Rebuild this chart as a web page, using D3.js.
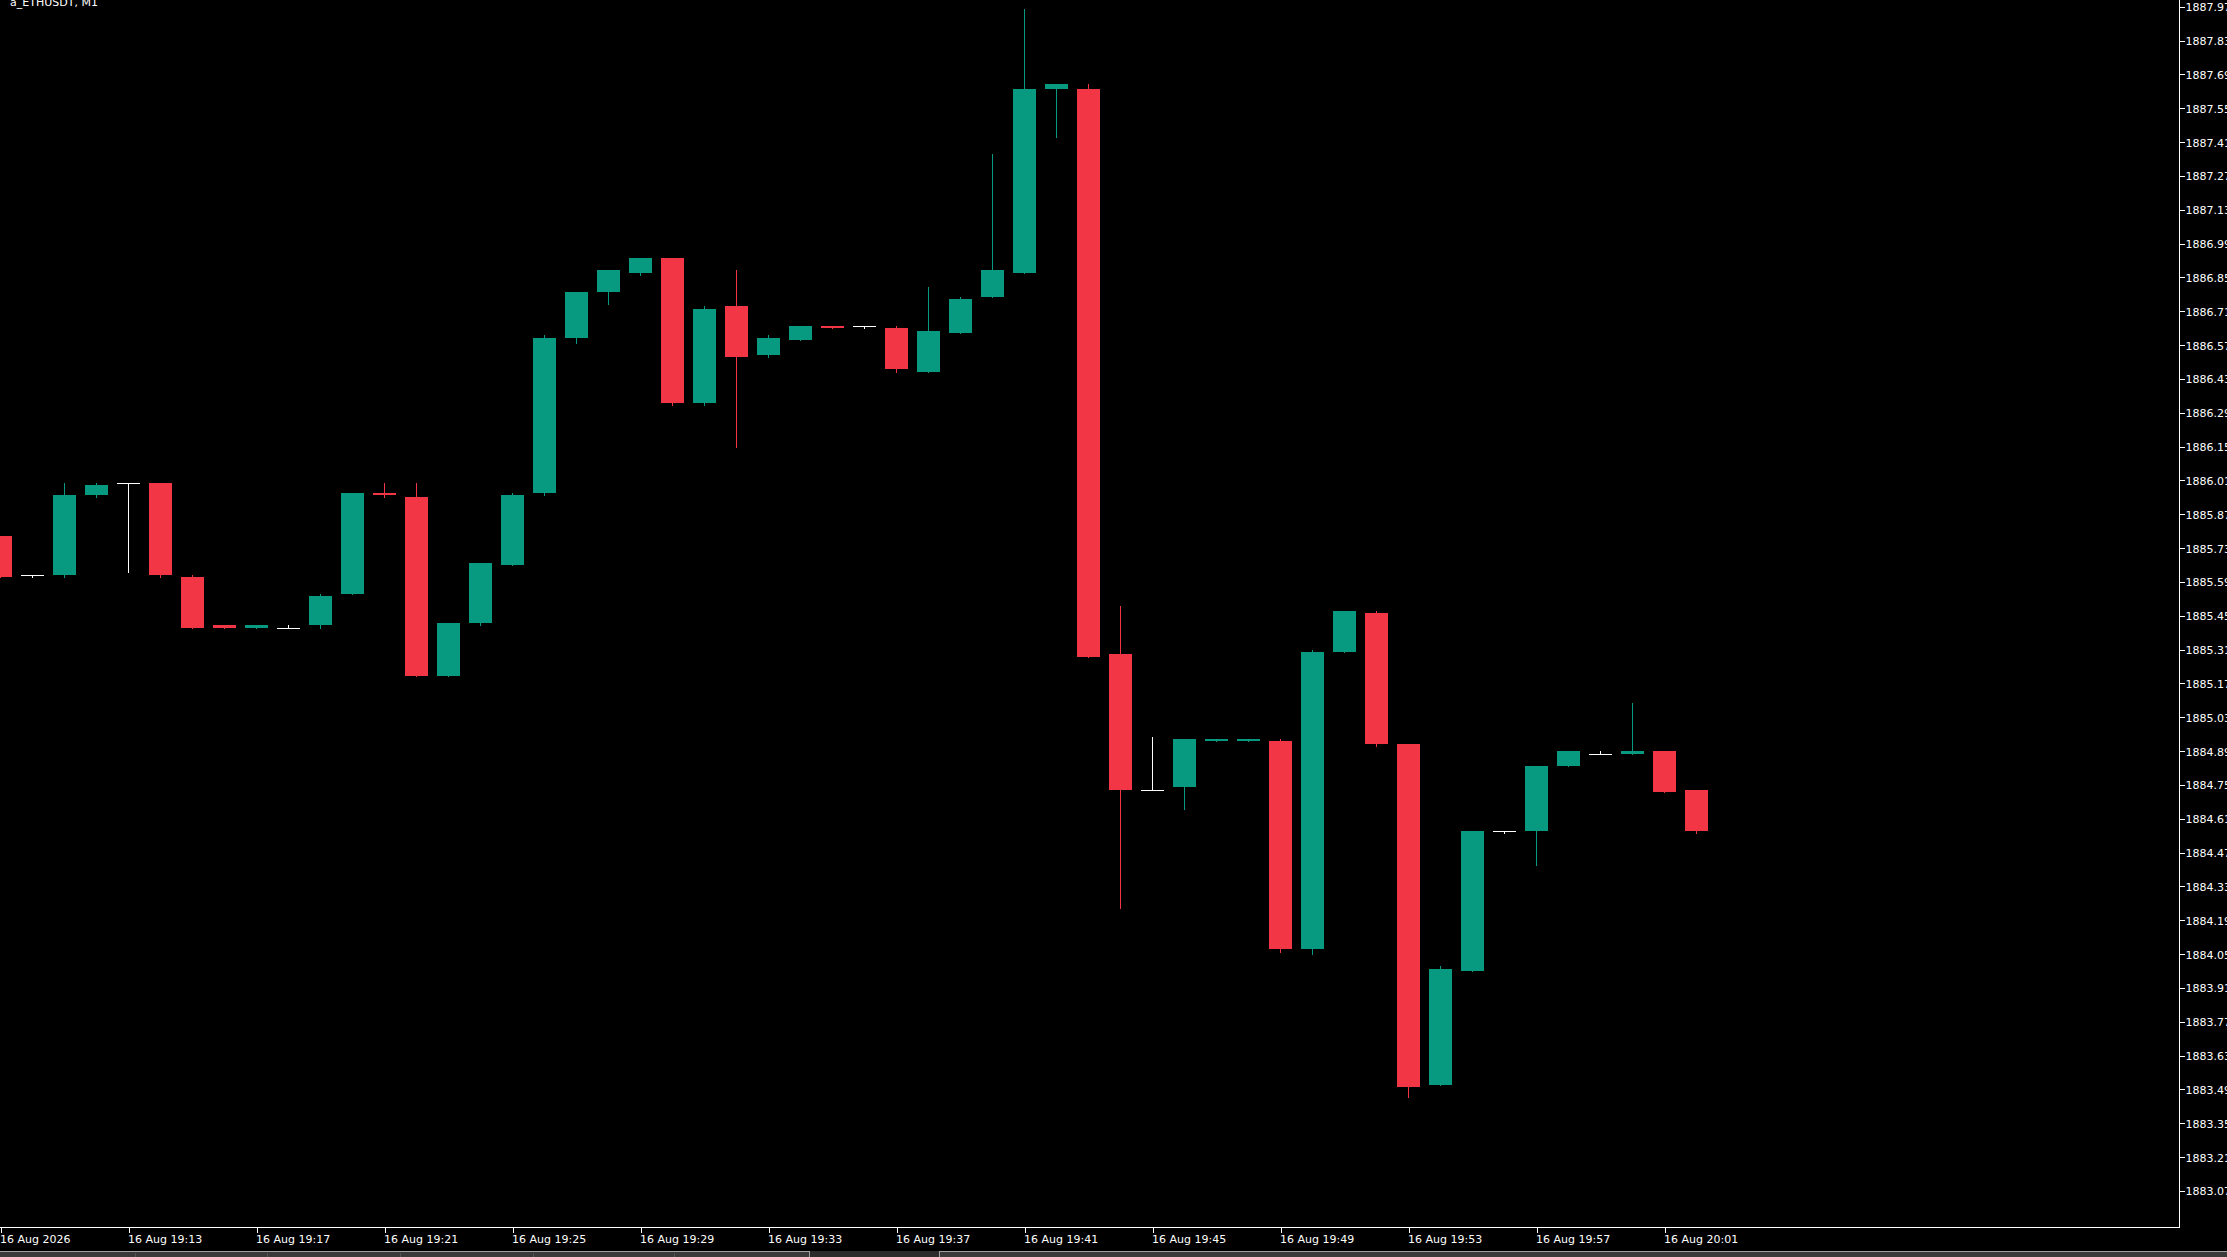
<!DOCTYPE html>
<html>
<head>
<meta charset="utf-8">
<script src="https://cdn.jsdelivr.net/npm/d3@7"></script>
<style>
  html, body { margin: 0; padding: 0; background: #000; overflow: hidden; }
  svg { display: block; }
  text { font-family: "DejaVu Sans", Verdana, sans-serif; }
</style>
</head>
<body>
<div id="chart"></div>
<script>
// ---------------- data ----------------
const chartTitle = "a_ETHUSDT, M1";
const times = ["19:09","19:10","19:11","19:12","19:13","19:14","19:15","19:16","19:17","19:18",
  "19:19","19:20","19:21","19:22","19:23","19:24","19:25","19:26","19:27","19:28",
  "19:29","19:30","19:31","19:32","19:33","19:34","19:35","19:36","19:37","19:38",
  "19:39","19:40","19:41","19:42","19:43","19:44","19:45","19:46","19:47","19:48",
  "19:49","19:50","19:51","19:52","19:53","19:54","19:55","19:56","19:57","19:58",
  "19:59","20:00","20:01","20:02"];
const open = [1885.78,1885.62,1885.62,1885.95,1886.00,1886.00,1885.61,1885.41,1885.40,1885.40,
  1885.41,1885.54,1885.96,1885.94,1885.20,1885.42,1885.66,1885.96,1886.60,1886.79,
  1886.87,1886.93,1886.33,1886.73,1886.53,1886.59,1886.65,1886.65,1886.64,1886.46,
  1886.62,1886.77,1886.87,1887.63,1887.63,1885.29,1884.73,1884.74,1884.93,1884.93,
  1884.93,1884.07,1885.30,1885.46,1884.92,1883.51,1883.98,1884.56,1884.56,1884.83,
  1884.88,1884.88,1884.89,1884.73];
const high = [1885.78,1885.62,1886.00,1886.00,1886.00,1886.00,1885.62,1885.41,1885.41,1885.41,
  1885.54,1885.96,1886.00,1886.00,1885.42,1885.67,1885.96,1886.61,1886.79,1886.88,
  1886.93,1886.93,1886.73,1886.88,1886.61,1886.65,1886.65,1886.65,1886.65,1886.81,
  1886.77,1887.36,1887.96,1887.65,1887.65,1885.49,1884.95,1884.94,1884.94,1884.94,
  1884.94,1885.31,1885.47,1885.47,1884.92,1884.00,1884.56,1884.56,1884.83,1884.89,
  1884.89,1885.09,1884.89,1884.73];
const low = [1885.61,1885.61,1885.61,1885.94,1885.63,1885.61,1885.40,1885.40,1885.40,1885.40,
  1885.40,1885.54,1885.94,1885.20,1885.20,1885.41,1885.66,1885.95,1886.58,1886.74,
  1886.86,1886.32,1886.32,1886.15,1886.52,1886.59,1886.64,1886.64,1886.46,1886.46,
  1886.62,1886.77,1886.87,1887.43,1885.28,1884.24,1884.73,1884.65,1884.93,1884.93,
  1884.06,1884.05,1885.30,1884.91,1883.46,1883.51,1883.98,1884.55,1884.42,1884.83,
  1884.88,1884.88,1884.72,1884.55];
const close = [1885.61,1885.62,1885.95,1885.99,1886.00,1885.62,1885.40,1885.40,1885.41,1885.40,
  1885.53,1885.96,1885.95,1885.20,1885.42,1885.67,1885.95,1886.60,1886.79,1886.88,
  1886.93,1886.33,1886.72,1886.52,1886.60,1886.65,1886.64,1886.65,1886.47,1886.63,
  1886.76,1886.88,1887.63,1887.65,1885.28,1884.73,1884.73,1884.94,1884.94,1884.94,
  1884.07,1885.30,1885.47,1884.92,1883.50,1883.99,1884.56,1884.56,1884.83,1884.89,
  1884.88,1884.89,1884.72,1884.56];
const priceTicks = [1887.97,1887.83,1887.69,1887.55,1887.41,1887.27,1887.13,1886.99,1886.85,1886.71,
  1886.57,1886.43,1886.29,1886.15,1886.01,1885.87,1885.73,1885.59,1885.45,1885.31,
  1885.17,1885.03,1884.89,1884.75,1884.61,1884.47,1884.33,1884.19,1884.05,1883.91,
  1883.77,1883.63,1883.49,1883.35,1883.21,1883.07];
const timeTickIndex = [0,4,8,12,16,20,24,28,32,36,40,44,48,52];
const timeTickLabels = ["16 Aug 2026","16 Aug 19:13","16 Aug 19:17","16 Aug 19:21","16 Aug 19:25",
  "16 Aug 19:29","16 Aug 19:33","16 Aug 19:37","16 Aug 19:41","16 Aug 19:45","16 Aug 19:49",
  "16 Aug 19:53","16 Aug 19:57","16 Aug 20:01"];

// ---------------- layout / style ----------------
const W = 2227, H = 1257;
const plotRight = 2179, plotBottom = 1227;
const barSpacing = 32, bodyW = 23;
const UP = "#089981", DOWN = "#F23645", DOJI = "#ffffff", FG = "#ffffff";

const candles = times.map((t, i) => ({ i, t, o: open[i], h: high[i], l: low[i], c: close[i] }));

const svg = d3.select("#chart").append("svg")
  .attr("width", W).attr("height", H)
  .style("background", "#000");

const x = d3.scaleLinear().domain([0, plotRight / barSpacing]).range([0, plotRight]);
const y = d3.scaleLinear().domain([priceTicks[priceTicks.length - 1], priceTicks[0]]).range([1191, 6.7]);

const col = d => d.c > d.o ? UP : (d.c < d.o ? DOWN : DOJI);

const plot = svg.append("g").attr("shape-rendering", "crispEdges");

// wicks
plot.selectAll("line.wick").data(candles).join("line")
  .attr("class", "wick")
  .attr("x1", d => Math.round(x(d.i)) + 0.5)
  .attr("x2", d => Math.round(x(d.i)) + 0.5)
  .attr("y1", d => Math.round(y(d.h)))
  .attr("y2", d => Math.round(y(d.l)) + 1)
  .attr("stroke", col).attr("stroke-width", 1);

// bodies
plot.selectAll("rect.body").data(candles).join("rect")
  .attr("class", "body")
  .attr("x", d => Math.round(x(d.i)) - 11)
  .attr("width", bodyW)
  .attr("y", d => Math.round(y(Math.max(d.o, d.c))))
  .attr("height", d => Math.max(1, Math.round(y(Math.min(d.o, d.c))) - Math.round(y(Math.max(d.o, d.c)))))
  .attr("fill", col);

// black mask below plot (in case)
svg.append("rect").attr("x", 0).attr("y", plotBottom).attr("width", W).attr("height", H - plotBottom).attr("fill", "#000");
svg.append("rect").attr("x", plotRight).attr("y", 0).attr("width", W - plotRight).attr("height", H).attr("fill", "#000");

// price axis
const yAxis = d3.axisRight(y).tickValues(priceTicks).tickSize(5).tickPadding(1)
  .tickFormat(d => d.toFixed(2)).tickSizeOuter(0);
const gy = svg.append("g").attr("transform", `translate(${plotRight + 0.5},0)`).call(yAxis);
gy.select(".domain").remove();
gy.selectAll(".tick line").attr("stroke", FG).attr("shape-rendering", "crispEdges");
gy.selectAll(".tick text").attr("fill", FG).style("font-size", "11px")
  .style("font-family", "'DejaVu Sans', Verdana, sans-serif").attr("dy", "0.36em");

// time axis
const xAxis = d3.axisBottom(x).tickValues(timeTickIndex).tickSize(5).tickPadding(3)
  .tickFormat((d, k) => timeTickLabels[k]).tickSizeOuter(0);
const gx = svg.append("g").attr("transform", `translate(0.5,${plotBottom + 0.5})`).call(xAxis);
gx.select(".domain").remove();
gx.selectAll(".tick line").attr("stroke", FG).attr("shape-rendering", "crispEdges");
gx.selectAll(".tick text").attr("fill", FG).attr("text-anchor", "start").attr("x", -1)
  .style("font-size", "11px").style("font-family", "'DejaVu Sans', Verdana, sans-serif");

// frame
svg.append("line").attr("x1", plotRight + 0.5).attr("x2", plotRight + 0.5).attr("y1", 0).attr("y2", plotBottom + 1)
  .attr("stroke", FG).attr("shape-rendering", "crispEdges");
svg.append("line").attr("x1", 0).attr("x2", plotRight + 1).attr("y1", plotBottom + 0.5).attr("y2", plotBottom + 0.5)
  .attr("stroke", FG).attr("shape-rendering", "crispEdges");

// title (partially cut at top as in the terminal)
svg.append("text").attr("x", 10).attr("y", 6).attr("fill", FG)
  .style("font-size", "11px").text(chartTitle);

// bottom tab strip
const strip = svg.append("g").attr("shape-rendering", "crispEdges");
strip.append("rect").attr("x", 0).attr("y", 1251).attr("width", W).attr("height", 6).attr("fill", "#2b2b2b");
strip.append("rect").attr("x", 0).attr("y", 1251).attr("width", 809).attr("height", 6).attr("fill", "#3a3a3a");
strip.append("rect").attr("x", 939).attr("y", 1251).attr("width", W - 939).attr("height", 6).attr("fill", "#3a3a3a");
strip.append("line").attr("x1", 0).attr("x2", 809).attr("y1", 1251.5).attr("y2", 1251.5).attr("stroke", "#a0a0a0");
strip.append("line").attr("x1", 939).attr("x2", W).attr("y1", 1251.5).attr("y2", 1251.5).attr("stroke", "#a0a0a0");
strip.append("line").attr("x1", 809.5).attr("x2", 809.5).attr("y1", 1251).attr("y2", H).attr("stroke", "#a0a0a0");
strip.append("line").attr("x1", 939.5).attr("x2", 939.5).attr("y1", 1251).attr("y2", H).attr("stroke", "#a0a0a0");
[135, 267, 400, 533, 674].forEach(px => {
  strip.append("line").attr("x1", px + 0.5).attr("x2", px + 0.5).attr("y1", 1253).attr("y2", H).attr("stroke", "#555");
});
</script>
</body>
</html>
